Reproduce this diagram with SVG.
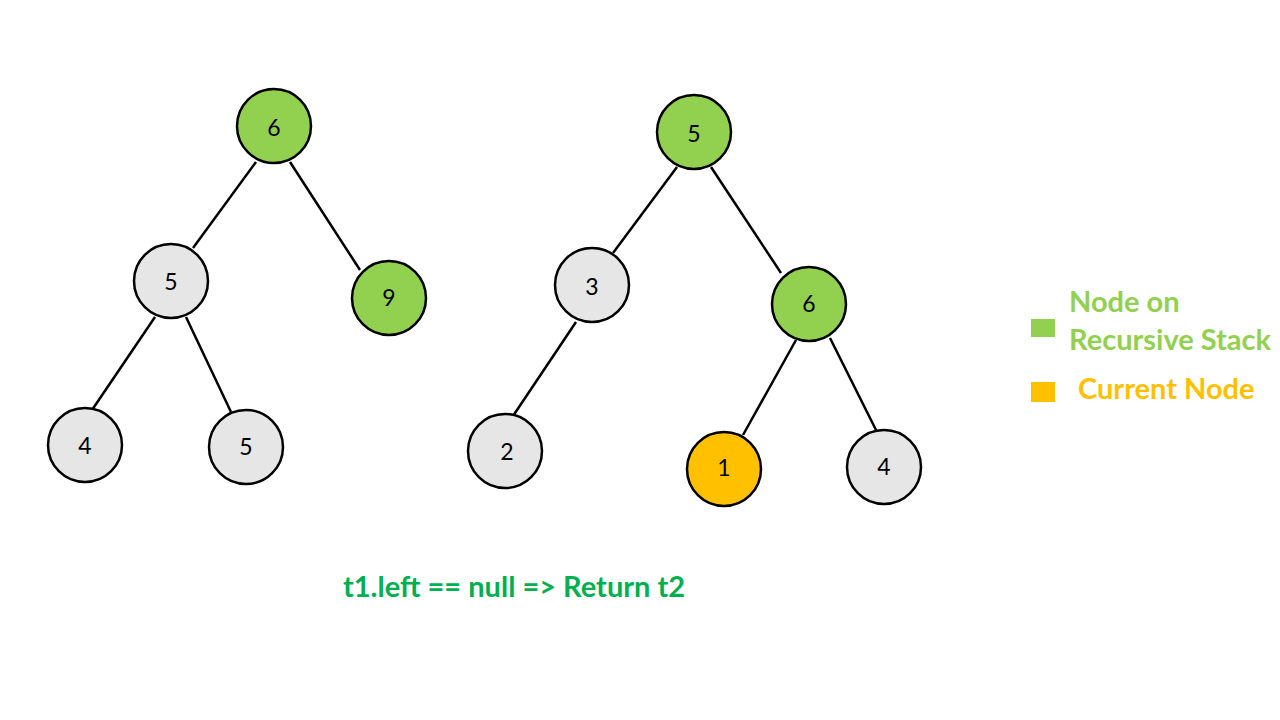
<svg xmlns="http://www.w3.org/2000/svg" width="1280" height="720" viewBox="0 0 1280 720">
<style>
.n{stroke:#000;stroke-width:2.5}
.g{fill:#92D050}
.w{fill:#E6E6E6}
.o{fill:#FFC000}
.t{font-family:Lato,"Open Sans","Liberation Sans",sans-serif;font-size:23px;text-anchor:middle;dominant-baseline:central;fill:#000}
.e line{stroke:#000;stroke-width:2.5}
.lg{font-family:Lato,"Open Sans","Liberation Sans",sans-serif;font-weight:bold;font-size:29px}
</style>
<rect width="1280" height="720" fill="#fff"/>
<g id="connectors" class="e">
<line x1="256" y1="162" x2="193" y2="248"/>
<line x1="290" y1="162" x2="360" y2="270"/>
<line x1="155" y1="317" x2="92" y2="410"/>
<line x1="186" y1="317" x2="231" y2="412"/>
<line x1="677" y1="167" x2="613" y2="253"/>
<line x1="711" y1="167" x2="781" y2="273"/>
<line x1="576" y1="322" x2="513" y2="416"/>
<line x1="796" y1="340" x2="743" y2="435"/>
<line x1="830" y1="338" x2="877" y2="432"/>
</g>
<g id="t1n6"><circle class="n g" cx="274" cy="126" r="37"/><text class="t" x="274" y="127">6</text></g>
<g id="t1n5"><circle class="n w" cx="171" cy="281" r="37"/><text class="t" x="171" y="281">5</text></g>
<g id="t1n9"><circle class="n g" cx="389" cy="298" r="37"/><text class="t" x="389" y="297">9</text></g>
<g id="t1n4"><circle class="n w" cx="85" cy="445" r="37"/><text class="t" x="85" y="445">4</text></g>
<g id="t1n5b"><circle class="n w" cx="246" cy="447" r="37"/><text class="t" x="246" y="446">5</text></g>
<g id="t2n5"><circle class="n g" cx="694" cy="132" r="37"/><text class="t" x="694" y="133">5</text></g>
<g id="t2n3"><circle class="n w" cx="592" cy="285" r="37"/><text class="t" x="592" y="286">3</text></g>
<g id="t2n6"><circle class="n g" cx="809" cy="304" r="37"/><text class="t" x="809" y="303">6</text></g>
<g id="t2n2"><circle class="n w" cx="505" cy="451" r="37"/><text class="t" x="507" y="451">2</text></g>
<g id="t2n1"><circle class="n o" cx="724" cy="469" r="37"/><text class="t" x="724" y="467">1</text></g>
<g id="t2n4"><circle class="n w" cx="884" cy="467" r="37"/><text class="t" x="884" y="466">4</text></g>
<g id="legend">
<rect x="1031" y="319" width="24" height="18" fill="#92D050"/>
<text class="lg" x="1069" y="312" fill="#92D050">Node on</text>
<text class="lg" x="1069" y="350" fill="#92D050">Recursive Stack</text>
<rect x="1031" y="382" width="24" height="20" fill="#FFC000"/>
<text class="lg" x="1078" y="399" fill="#FFC000">Current Node</text>
</g>
<text class="lg" x="343" y="597" fill="#00B050">t1.left == null =&gt; Return t2</text>
</svg>
